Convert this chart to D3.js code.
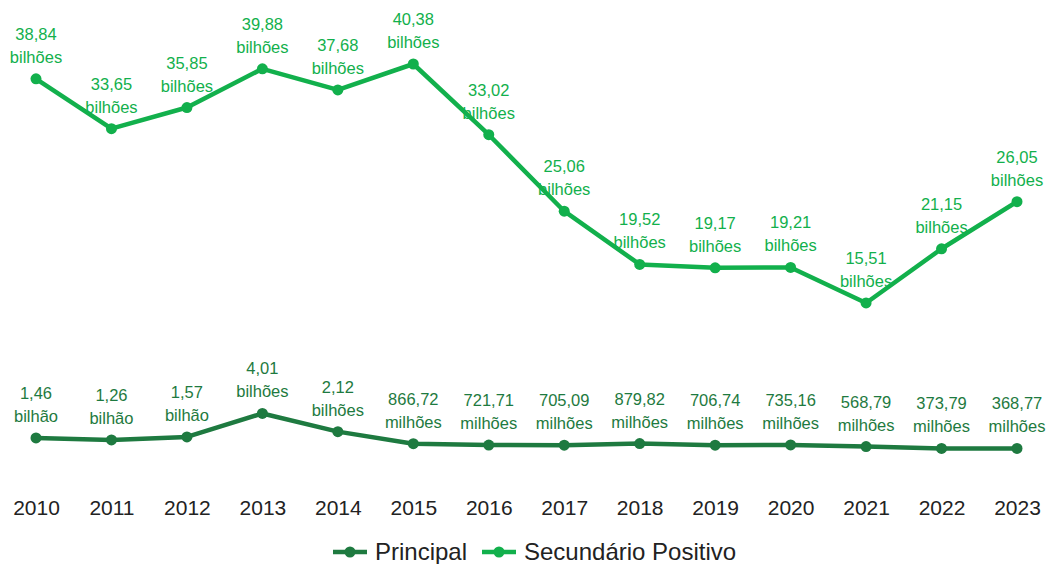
<!DOCTYPE html>
<html><head><meta charset="utf-8">
<script src="https://cdn.jsdelivr.net/npm/d3@7"></script>
<style>body{margin:0;background:#fff}svg{display:block;font-family:Arial,"Liberation Sans",sans-serif}</style>
</head><body><svg id="c" width="1046" height="564"></svg>
<script>
const years = ["2010","2011","2012","2013","2014","2015","2016","2017","2018","2019","2020","2021","2022","2023"];
const principal = [1.46,1.26,1.57,4.01,2.12,0.86672,0.72171,0.70509,0.87982,0.70674,0.73516,0.56879,0.37379,0.36877];
const principalLabels = ["1,46","1,26","1,57","4,01","2,12","866,72","721,71","705,09","879,82","706,74","735,16","568,79","373,79","368,77"];
const principalUnits = ["bilhão","bilhão","bilhão","bilhões","bilhões","milhões","milhões","milhões","milhões","milhões","milhões","milhões","milhões","milhões"];
const secundario = [38.84,33.65,35.85,39.88,37.68,40.38,33.02,25.06,19.52,19.17,19.21,15.51,21.15,26.05];
const secundarioLabels = ["38,84","33,65","35,85","39,88","37,68","40,38","33,02","25,06","19,52","19,17","19,21","15,51","21,15","26,05"];
const secundarioUnits = years.map(()=> "bilhões");
const seriesNames = ["Principal","Secundário Positivo"];

const colors = ["#1e7a40","#12b04c"];
const svg = d3.select("#c");
const x = d3.scalePoint().domain(years).range([36,1017]);
const y = d3.scaleLinear().domain([0,40.38]).range([452,64]);

const series = [
  {name:seriesNames[0], values:principal, labels:principalLabels, units:principalUnits, color:colors[0]},
  {name:seriesNames[1], values:secundario, labels:secundarioLabels, units:secundarioUnits, color:colors[1]}
];
const line = d3.line().x((d,i)=>x(years[i])).y(d=>y(d));

series.forEach(s=>{
  const g = svg.append("g");
  g.append("path").attr("d", line(s.values)).attr("fill","none").attr("stroke",s.color).attr("stroke-width",4.5).attr("stroke-linejoin","round");
  g.selectAll("circle").data(s.values).join("circle")
    .attr("cx",(d,i)=>x(years[i])).attr("cy",d=>y(d)).attr("r",5.5).attr("fill",s.color);
  const t = g.selectAll("text.v").data(s.values).join("text").attr("class","v")
    .attr("text-anchor","middle").attr("fill",s.color).attr("font-size",16.5);
  t.append("tspan").attr("x",(d,i)=>x(years[i])).attr("y",d=>y(d)-39).text((d,i)=>s.labels[i]);
  t.append("tspan").attr("x",(d,i)=>x(years[i])).attr("y",d=>y(d)-16).text((d,i)=>s.units[i]);
});

// x axis labels
const xAxis = d3.axisBottom(x).tickSize(0).tickPadding(0);
const ax = svg.append("g").attr("transform","translate(0,500)").call(xAxis);
ax.select(".domain").remove();
ax.selectAll("text").attr("font-size",21).attr("fill","#222").attr("font-family","Arial,'Liberation Sans',sans-serif");

// legend
const leg = svg.append("g").attr("transform","translate(0,552)");
const items = [{x:333,name:seriesNames[0],c:colors[0]},{x:482,name:seriesNames[1],c:colors[1]}];
items.forEach(it=>{
  leg.append("line").attr("x1",it.x).attr("x2",it.x+34).attr("y1",0).attr("y2",0).attr("stroke",it.c).attr("stroke-width",4.5);
  leg.append("circle").attr("cx",it.x+17).attr("cy",0).attr("r",5.5).attr("fill",it.c);
  leg.append("text").attr("x",it.x+42).attr("y",8).attr("font-size",24).attr("fill","#222").text(it.name);
});
</script></body></html>
